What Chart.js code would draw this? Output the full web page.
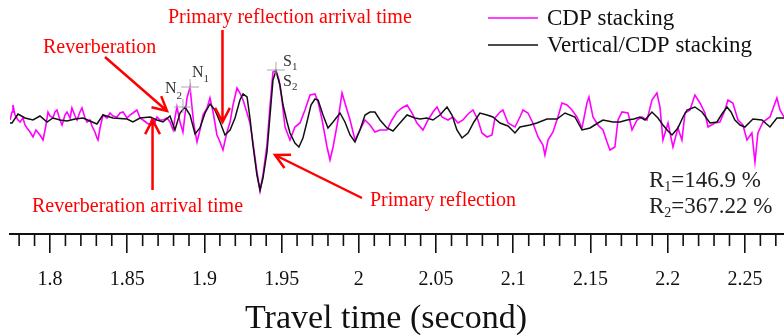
<!DOCTYPE html>
<html><head><meta charset="utf-8">
<script src="https://cdn.jsdelivr.net/npm/chart.js@4"></script>
<style>html,body{margin:0;padding:0;background:#fff}#wrap{width:784px;height:335px;position:relative}</style>
</head><body><div id="wrap"><canvas id="c"></canvas></div>
<script>
// ---- data (time in seconds, amplitude in relative units) ----
const majorTicks = [1.8, 1.85, 1.9, 1.95, 2, 2.05, 2.1, 2.15, 2.2, 2.25];
const axisTitle = 'Travel time (second)';

const cdpTime = [1.7741,1.7754,1.7760,1.7773,1.7793,1.7806,1.7825,1.7838,1.7851,1.7871,1.7890,1.7909,1.7935,1.7955,1.7974,1.7987,1.8000,1.8019,1.8032,1.8045,1.8065,1.8078,1.8097,1.8110,1.8130,1.8142,1.8162,1.8175,1.8194,1.8207,1.8227,1.8240,1.8259,1.8272,1.8291,1.8304,1.8311,1.8324,1.8343,1.8369,1.8389,1.8408,1.8434,1.8453,1.8473,1.8499,1.8518,1.8537,1.8563,1.8583,1.8602,1.8628,1.8648,1.8661,1.8680,1.8693,1.8712,1.8732,1.8758,1.8777,1.8797,1.8809,1.8822,1.8842,1.8861,1.8887,1.8907,1.8920,1.8932,1.8952,1.8971,1.8991,1.9017,1.9036,1.9056,1.9081,1.9101,1.9120,1.9146,1.9166,1.9185,1.9211,1.9230,1.9250,1.9276,1.9295,1.9314,1.9340,1.9360,1.9379,1.9405,1.9425,1.9444,1.9463,1.9483,1.9502,1.9522,1.9554,1.9586,1.9619,1.9651,1.9684,1.9716,1.9736,1.9762,1.9794,1.9813,1.9833,1.9865,1.9891,1.9910,1.9943,1.9975,2.0007,2.0040,2.0072,2.0104,2.0137,2.0182,2.0214,2.0247,2.0279,2.0312,2.0344,2.0376,2.0415,2.0448,2.0480,2.0506,2.0538,2.0577,2.0609,2.0642,2.0674,2.0707,2.0739,2.0771,2.0797,2.0830,2.0862,2.0881,2.0914,2.0933,2.0966,2.1011,2.1043,2.1063,2.1095,2.1127,2.1160,2.1192,2.1205,2.1225,2.1257,2.1289,2.1315,2.1348,2.1380,2.1412,2.1445,2.1477,2.1490,2.1516,2.1548,2.1581,2.1607,2.1626,2.1658,2.1678,2.1704,2.1743,2.1769,2.1801,2.1833,2.1866,2.1898,2.1930,2.1950,2.1969,2.2002,2.2034,2.2066,2.2092,2.2112,2.2144,2.2176,2.2209,2.2241,2.2261,2.2306,2.2338,2.2371,2.2390,2.2422,2.2455,2.2487,2.2513,2.2545,2.2565,2.2584,2.2617,2.2662,2.2707,2.2727,2.2753];
const cdpAmp = [0.0,0.8,1.5,0.5,0.0,-0.2,0.2,-0.5,-0.8,-1.2,-1.7,-1.0,-1.5,-2.0,-0.5,0.8,0.4,0.2,0.8,1.0,0.0,-0.5,0.5,0.8,0.2,1.2,0.4,0.0,0.8,1.2,0.2,-0.2,0.0,-0.6,-1.2,-1.8,-2.0,-0.8,0.5,0.2,0.7,0.4,0.3,0.7,0.8,0.2,0.5,0.7,1.0,0.2,0.0,-0.3,-0.5,0.2,-0.2,0.3,0.0,0.0,0.2,-0.2,-1.0,0.2,1.3,-0.2,-1.2,2.2,3.3,1.2,-0.5,-2.2,-1.0,0.5,1.2,2.2,0.8,-1.5,-2.2,-3.0,-1.2,-0.2,1.5,3.2,2.7,2.0,0.7,-0.3,-2.2,-5.2,-7.1,-5.5,-2.5,1.5,4.8,5.0,4.0,2.0,-0.7,-2.0,-0.7,-0.3,1.0,2.5,2.6,1.8,0.0,-2.7,-4.0,-2.7,0.0,2.7,1.7,0.0,-2.0,-1.0,0.0,-0.5,-1.2,-1.0,-1.0,0.0,0.8,1.2,1.5,0.7,-0.3,-1.0,0.0,0.8,1.3,0.3,0.0,0.3,-0.3,0.0,0.6,1.0,0.0,-1.3,-1.7,-1.5,0.2,0.8,1.0,-0.3,-0.7,0.3,1.0,0.7,-0.3,-1.7,-2.5,-3.5,-2.0,-1.2,0.3,1.7,1.5,1.0,0.3,-0.8,1.7,2.3,0.3,-0.5,-1.0,-2.2,-3.0,-2.7,0.0,0.8,0.7,-1.0,0.0,0.3,0.0,2.0,2.7,1.3,-2.0,-0.3,-2.7,-0.8,-2.0,0.7,1.0,2.5,1.7,0.7,-0.7,-0.3,-0.2,1.0,2.0,1.7,0.0,-0.5,-2.0,-1.3,-4.2,-1.3,-0.2,0.3,2.2,1.0,0.3];

const vcdpTime = [1.7741,1.7754,1.7793,1.7838,1.7890,1.7935,1.7981,1.8019,1.8065,1.8110,1.8162,1.8214,1.8259,1.8304,1.8343,1.8408,1.8499,1.8537,1.8583,1.8648,1.8693,1.8732,1.8777,1.8809,1.8842,1.8874,1.8907,1.8939,1.8971,1.9004,1.9036,1.9068,1.9101,1.9133,1.9166,1.9198,1.9230,1.9250,1.9276,1.9295,1.9314,1.9340,1.9360,1.9379,1.9405,1.9425,1.9444,1.9463,1.9489,1.9509,1.9535,1.9554,1.9586,1.9612,1.9638,1.9664,1.9690,1.9716,1.9736,1.9768,1.9800,1.9833,1.9878,1.9910,1.9943,1.9975,2.0007,2.0040,2.0072,2.0104,2.0137,2.0182,2.0221,2.0266,2.0312,2.0363,2.0396,2.0441,2.0480,2.0525,2.0571,2.0603,2.0635,2.0668,2.0707,2.0745,2.0784,2.0830,2.0868,2.0914,2.0966,2.1011,2.1043,2.1108,2.1153,2.1218,2.1283,2.1335,2.1399,2.1445,2.1497,2.1548,2.1581,2.1645,2.1691,2.1736,2.1781,2.1820,2.1853,2.1898,2.1937,2.1969,2.2002,2.2028,2.2066,2.2099,2.2125,2.2176,2.2222,2.2274,2.2319,2.2351,2.2384,2.2410,2.2435,2.2468,2.2500,2.2552,2.2610,2.2662,2.2707,2.2753];
const vcdpAmp = [-0.3,-0.3,0.6,0.2,0.0,0.4,-0.2,0.2,0.0,-0.1,0.1,0.2,-0.1,-0.4,0.5,0.2,0.1,-0.2,0.2,0.3,0.0,-0.2,0.4,-1.0,0.7,1.3,0.5,-1.4,-0.8,0.7,1.6,1.0,-0.2,-1.5,-1.0,0.2,2.0,2.6,2.3,0.2,-2.5,-5.5,-7.0,-5.8,-3.2,0.5,4.0,4.9,3.5,1.5,-0.2,-1.3,-2.3,-2.7,-1.8,-0.2,1.5,2.1,2.0,0.5,-0.8,-0.2,0.7,-0.2,-1.5,-2.2,-1.0,0.5,0.8,0.8,0.0,-0.8,-1.1,-0.3,0.5,0.2,0.1,0.2,0.0,0.5,1.3,0.5,-1.0,-1.8,-1.3,-0.2,0.7,0.5,0.3,-0.3,-0.6,-1.3,-0.7,-0.5,-0.3,0.1,0.1,0.7,0.3,-1.0,-0.8,-0.3,0.0,-0.2,-0.2,0.0,0.1,0.3,0.0,0.8,0.2,-0.5,-1.1,-1.5,-0.8,0.3,1.0,1.3,0.8,-0.3,-0.2,0.6,1.3,0.8,0.0,-0.5,-0.7,0.1,0.0,-0.7,0.2,0.2];

// annotation anchors in data coordinates [time, amplitude]
const arrowDefs = [
  [[1.8356, 6.3], [1.8758, 0.9]],   // Reverberation
  [[1.9117, 9.0], [1.9117, -0.2]],  // Primary reflection arrival time
  [[1.8664, -7.0], [1.8664, 0.0]],  // Reverberation arrival time
  [[2.0020, -7.8], [1.9457, -3.5]]  // Primary reflection
];
const crossDefs = [[1.8907, 3.3], [1.8861, 1.3], [1.9463, 5.0]];

const SERIF = '"Liberation Serif", "Times New Roman", serif';

function rich(ctx, x, y, segs, color) {
  ctx.fillStyle = color; ctx.textBaseline = 'alphabetic'; ctx.textAlign = 'left';
  let cx = x;
  for (const [t, size, dy] of segs) {
    ctx.font = size + 'px ' + SERIF;
    ctx.fillText(t, cx, y + dy);
    cx += ctx.measureText(t).width;
  }
}
function arrow(ctx, x1, y1, x2, y2, L, a) {
  const ang = Math.atan2(y2 - y1, x2 - x1);
  ctx.beginPath();
  ctx.moveTo(x1, y1); ctx.lineTo(x2, y2);
  ctx.moveTo(x2 - L * Math.cos(ang - a), y2 - L * Math.sin(ang - a));
  ctx.lineTo(x2, y2);
  ctx.lineTo(x2 - L * Math.cos(ang + a), y2 - L * Math.sin(ang + a));
  ctx.stroke();
}

const overlay = {
  id: 'overlay',
  afterDraw(chart) {
    const { ctx, scales: { x, y }, chartArea } = chart;
    ctx.save();
    // minor ticks
    ctx.strokeStyle = '#111'; ctx.lineWidth = 1.6;
    ctx.beginPath();
    for (let k = 178; k <= 227; k++) {
      if (k % 5 === 0) continue;
      const px = x.getPixelForValue(k / 100);
      ctx.moveTo(px, chartArea.bottom); ctx.lineTo(px, chartArea.bottom + 12);
    }
    ctx.stroke();

    // axis title
    ctx.fillStyle = '#111'; ctx.font = '34px ' + SERIF; ctx.textAlign = 'center'; ctx.textBaseline = 'middle';
    ctx.fillText(axisTitle, 386, 319);
    ctx.textAlign = 'left';

    // legend
    const ds = chart.data.datasets;
    const legY = [18, 45];
    ds.forEach((d, i) => {
      ctx.strokeStyle = d.borderColor; ctx.lineWidth = 1.5;
      ctx.beginPath(); ctx.moveTo(488, legY[i]); ctx.lineTo(538, legY[i]); ctx.stroke();
      ctx.fillStyle = '#111'; ctx.font = '23px ' + SERIF; ctx.textBaseline = 'middle';
      ctx.fillText(d.label, 547, legY[i] + 1);
    });

    // crosshair markers
    ctx.strokeStyle = '#aaa'; ctx.lineWidth = 1;
    crossDefs.forEach(([t, a]) => {
      const px = x.getPixelForValue(t), py = y.getPixelForValue(a);
      ctx.beginPath();
      ctx.moveTo(px - 9, py); ctx.lineTo(px + 9, py);
      ctx.moveTo(px, py - 8); ctx.lineTo(px, py + 6);
      ctx.stroke();
    });
    rich(ctx, 192, 77, [['N', 16, 0], ['1', 11, 5]], '#333');
    rich(ctx, 165, 93, [['N', 16, 0], ['2', 11, 6]], '#333');
    rich(ctx, 283, 66, [['S', 16, 0], ['1', 11, 4]], '#333');
    rich(ctx, 283, 86, [['S', 16, 0], ['2', 11, 4]], '#333');

    // red arrows
    ctx.strokeStyle = '#ff0000'; ctx.lineWidth = 2.5; ctx.lineCap = 'butt';
    arrowDefs.forEach(([[t1, a1], [t2, a2]]) => {
      arrow(ctx, x.getPixelForValue(t1), y.getPixelForValue(a1), x.getPixelForValue(t2), y.getPixelForValue(a2), 16, 0.48);
    });
    // red texts
    ctx.fillStyle = '#ff0000'; ctx.font = '20px ' + SERIF; ctx.textBaseline = 'alphabetic';
    ctx.fillText('Primary reflection arrival time', 168, 23);
    ctx.fillText('Reverberation', 43, 53);
    ctx.fillText('Reverberation arrival time', 32, 212);
    ctx.fillText('Primary reflection', 370, 206);

    // ratios
    rich(ctx, 649, 187, [['R', 23, 0], ['1', 14, 4], ['=146.9 %', 23, 0]], '#222');
    rich(ctx, 649, 213, [['R', 23, 0], ['2', 14, 4], ['=367.22 %', 23, 0]], '#222');
    ctx.restore();
  }
};

new Chart(document.getElementById('c'), {
  type: 'line',
  data: {
    datasets: [
      { label: 'CDP stacking', data: cdpTime.map((t, i) => ({ x: t, y: cdpAmp[i] })),
        borderColor: '#ff00ff', borderWidth: 1.6, pointRadius: 0, tension: 0, order: 2 },
      { label: 'Vertical/CDP stacking', data: vcdpTime.map((t, i) => ({ x: t, y: vcdpAmp[i] })),
        borderColor: '#111111', borderWidth: 1.5, pointRadius: 0, tension: 0, order: 1 }
    ]
  },
  options: {
    responsive: true, maintainAspectRatio: false, animation: false,
    layout: { padding: { left: 10, right: 0, top: 0, bottom: 0 } },
    plugins: { legend: { display: false }, tooltip: { enabled: false } },
    scales: {
      x: {
        type: 'linear', min: 1.7741, max: 2.2753,
        afterBuildTicks: s => { s.ticks = majorTicks.map(v => ({ value: v })); },
        afterFit: s => { s.height = 101; },
        ticks: { autoSkip: false, maxRotation: 0, padding: 15, color: '#111',
          font: { family: SERIF, size: 20 }, callback: v => String(+Number(v).toFixed(2)) },
        grid: { drawOnChartArea: false, drawTicks: true, tickLength: 19, color: '#111', lineWidth: 1.6 },
        border: { display: true, color: '#111', width: 2 },
        title: { display: false }
      },
      y: { display: false, min: -11.4, max: 12.0 }
    }
  },
  plugins: [overlay]
});
</script>
</body></html>
